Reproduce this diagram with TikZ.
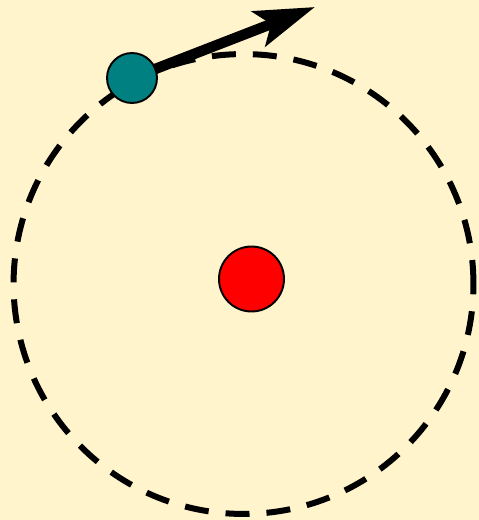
\documentclass[tikz,border=0pt]{standalone}
\usepackage{xcolor}
\usepackage{tikz}
\usetikzlibrary{arrows.meta}
\definecolor{bgCol}{HTML}{FFF4CC}
\definecolor{planetCol}{HTML}{008080}
\definecolor{starCol}{HTML}{FF0000}
\tikzset{
  orbit/.style={draw, circle, dash pattern=on 0.48cm off 0.34cm, line width=0.12cm,
                minimum size=9.2cm, inner sep=0pt},
  ball/.style={draw, circle, line width=1.1pt, inner sep=0pt},
  velo/.style={-{Stealth[length=1.2cm, width=0.74cm, inset=0.26cm]}, line width=0.21cm},
}
\begin{document}
\begin{tikzpicture}[x=0.02cm, y=-0.02cm]
  \fill[bgCol] (0,0) rectangle (479,520);
  \useasboundingbox (0,0) rectangle (479,520);
  \node[orbit] (path) at (243.5,284) {};
  \coordinate (pos) at (132,78);
  \coordinate (tip) at (315,7);
  \draw[velo] (pos) -- (tip);
  \node[ball, fill=planetCol, minimum size=1.0cm] (planet) at (pos) {};
  \node[ball, fill=starCol, minimum size=1.3cm] (star) at (251.5,279) {};
\end{tikzpicture}
\end{document}
